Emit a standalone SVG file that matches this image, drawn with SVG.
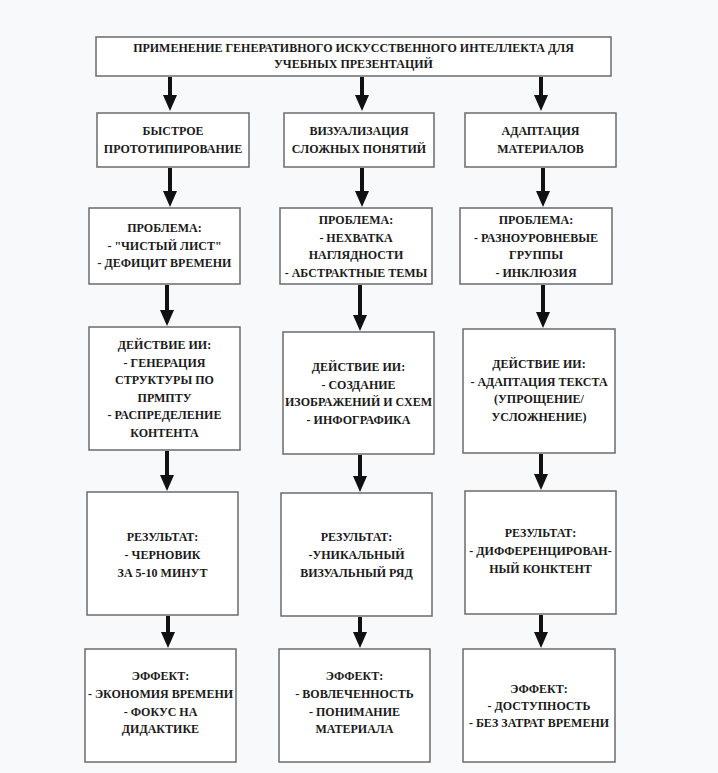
<svg xmlns="http://www.w3.org/2000/svg" width="718" height="773" viewBox="0 0 718 773">
<defs>
<marker id="ah" viewBox="0 0 16 14" markerWidth="16" markerHeight="14" refX="0" refY="7" orient="auto" markerUnits="userSpaceOnUse">
<path d="M0,0 L16,7 L0,14 z" fill="#111"/>
</marker>
<style>
.box{fill:#fff;stroke:#6b6b6b;stroke-width:1.5}
.t{font-family:"Liberation Serif","Times New Roman",serif;font-weight:bold;font-size:12px;fill:#1a1a1a;text-anchor:middle}
.c{stroke:#111;stroke-width:4;fill:none;marker-end:url(#ah)}
</style>
</defs>
<rect width="718" height="773" fill="#f8f9fa"/>
<g id="connectors">
<path class="c" d="M170,77 V95"/>
<path class="c" d="M362,77 V95"/>
<path class="c" d="M541,77 V95"/>
<path class="c" d="M170,168 V191"/>
<path class="c" d="M362,168 V191"/>
<path class="c" d="M543,168 V191"/>
<path class="c" d="M167,285 V310"/>
<path class="c" d="M360,285 V315"/>
<path class="c" d="M543,285 V312"/>
<path class="c" d="M167,451 V475"/>
<path class="c" d="M360,455 V476"/>
<path class="c" d="M541,454 V474"/>
<path class="c" d="M168,616 V632"/>
<path class="c" d="M360,617 V632"/>
<path class="c" d="M541,615 V632"/>
</g>
<g id="title">
<rect class="box" x="96" y="37" width="515" height="39"/>
<text class="t" x="353.5" y="52">ПРИМЕНЕНИЕ ГЕНЕРАТИВНОГО ИСКУССТВЕННОГО ИНТЕЛЛЕКТА ДЛЯ</text>
<text class="t" x="353.5" y="68">УЧЕБНЫХ ПРЕЗЕНТАЦИЙ</text>
</g>
<g id="n1a">
<rect class="box" x="97" y="113" width="152" height="54"/>
<text class="t" x="173" y="135">БЫСТРОЕ</text>
<text class="t" x="173" y="153">ПРОТОТИПИРОВАНИЕ</text>
</g>
<g id="n1b">
<rect class="box" x="284" y="113" width="150" height="54"/>
<text class="t" x="359" y="135">ВИЗУАЛИЗАЦИЯ</text>
<text class="t" x="359" y="153">СЛОЖНЫХ ПОНЯТИЙ</text>
</g>
<g id="n1c">
<rect class="box" x="465" y="113" width="151" height="54"/>
<text class="t" x="540.5" y="135">АДАПТАЦИЯ</text>
<text class="t" x="540.5" y="153">МАТЕРИАЛОВ</text>
</g>
<g id="n2a">
<rect class="box" x="89" y="208" width="151" height="76"/>
<text class="t" x="164.5" y="232">ПРОБЛЕМА:</text>
<text class="t" x="164.5" y="249.5">- "ЧИСТЫЙ ЛИСТ"</text>
<text class="t" x="164.5" y="267">- ДЕФИЦИТ ВРЕМЕНИ</text>
</g>
<g id="n2b">
<rect class="box" x="280" y="208" width="152" height="76"/>
<text class="t" x="356" y="224">ПРОБЛЕМА:</text>
<text class="t" x="356" y="241.5">- НЕХВАТКА</text>
<text class="t" x="356" y="259">НАГЛЯДНОСТИ</text>
<text class="t" x="356" y="276.5">- АБСТРАКТНЫЕ ТЕМЫ</text>
</g>
<g id="n2c">
<rect class="box" x="460" y="208" width="152" height="76"/>
<text class="t" x="536" y="224">ПРОБЛЕМА:</text>
<text class="t" x="536" y="241.5">- РАЗНОУРОВНЕВЫЕ</text>
<text class="t" x="536" y="259">ГРУППЫ</text>
<text class="t" x="536" y="276.5">- ИНКЛЮЗИЯ</text>
</g>
<g id="n3a">
<rect class="box" x="89" y="327" width="151" height="123"/>
<text class="t" x="164.5" y="349">ДЕЙСТВИЕ ИИ:</text>
<text class="t" x="164.5" y="366.5">- ГЕНЕРАЦИЯ</text>
<text class="t" x="164.5" y="384">СТРУКТУРЫ ПО</text>
<text class="t" x="164.5" y="401.5">ПРМПТУ</text>
<text class="t" x="164.5" y="419">- РАСПРЕДЕЛЕНИЕ</text>
<text class="t" x="164.5" y="436.5">КОНТЕНТА</text>
</g>
<g id="n3b">
<rect class="box" x="283" y="332" width="151" height="122"/>
<text class="t" x="358.5" y="371">ДЕЙСТВИЕ ИИ:</text>
<text class="t" x="358.5" y="388.5">- СОЗДАНИЕ</text>
<text class="t" x="358.5" y="406">ИЗОБРАЖЕНИЙ И СХЕМ</text>
<text class="t" x="358.5" y="423.5">- ИНФОГРАФИКА</text>
</g>
<g id="n3c">
<rect class="box" x="463" y="329" width="152" height="124"/>
<text class="t" x="539" y="368">ДЕЙСТВИЕ ИИ:</text>
<text class="t" x="539" y="385.5">- АДАПТАЦИЯ ТЕКСТА</text>
<text class="t" x="539" y="403">(УПРОЩЕНИЕ/</text>
<text class="t" x="539" y="420.5">УСЛОЖНЕНИЕ)</text>
</g>
<g id="n4a">
<rect class="box" x="87" y="492" width="151" height="123"/>
<text class="t" x="162.5" y="541">РЕЗУЛЬТАТ:</text>
<text class="t" x="162.5" y="559">- ЧЕРНОВИК</text>
<text class="t" x="162.5" y="577">ЗА 5-10 МИНУТ</text>
</g>
<g id="n4b">
<rect class="box" x="281" y="493" width="151" height="123"/>
<text class="t" x="356.5" y="541">РЕЗУЛЬТАТ:</text>
<text class="t" x="356.5" y="559">-УНИКАЛЬНЫЙ</text>
<text class="t" x="356.5" y="577">ВИЗУАЛЬНЫЙ РЯД</text>
</g>
<g id="n4c">
<rect class="box" x="465" y="491" width="151" height="123"/>
<text class="t" x="540.5" y="537">РЕЗУЛЬТАТ:</text>
<text class="t" x="540.5" y="555">- ДИФФЕРЕНЦИРОВАН-</text>
<text class="t" x="540.5" y="573">НЫЙ КОНКТЕНТ</text>
</g>
<g id="n5a">
<rect class="box" x="85" y="649" width="151" height="113"/>
<text class="t" x="160.5" y="680">ЭФФЕКТ:</text>
<text class="t" x="160.5" y="698">- ЭКОНОМИЯ ВРЕМЕНИ</text>
<text class="t" x="160.5" y="715.5">- ФОКУС НА</text>
<text class="t" x="160.5" y="733">ДИДАКТИКЕ</text>
</g>
<g id="n5b">
<rect class="box" x="279" y="649" width="151" height="113"/>
<text class="t" x="354.5" y="680">ЭФФЕКТ:</text>
<text class="t" x="354.5" y="698">- ВОВЛЕЧЕННОСТЬ</text>
<text class="t" x="354.5" y="715.5">- ПОНИМАНИЕ</text>
<text class="t" x="354.5" y="733">МАТЕРИАЛА</text>
</g>
<g id="n5c">
<rect class="box" x="463" y="649" width="152" height="113"/>
<text class="t" x="539" y="693">ЭФФЕКТ:</text>
<text class="t" x="539" y="710">- ДОСТУПНОСТЬ</text>
<text class="t" x="539" y="727">- БЕЗ ЗАТРАТ ВРЕМЕНИ</text>
</g>
</svg>
